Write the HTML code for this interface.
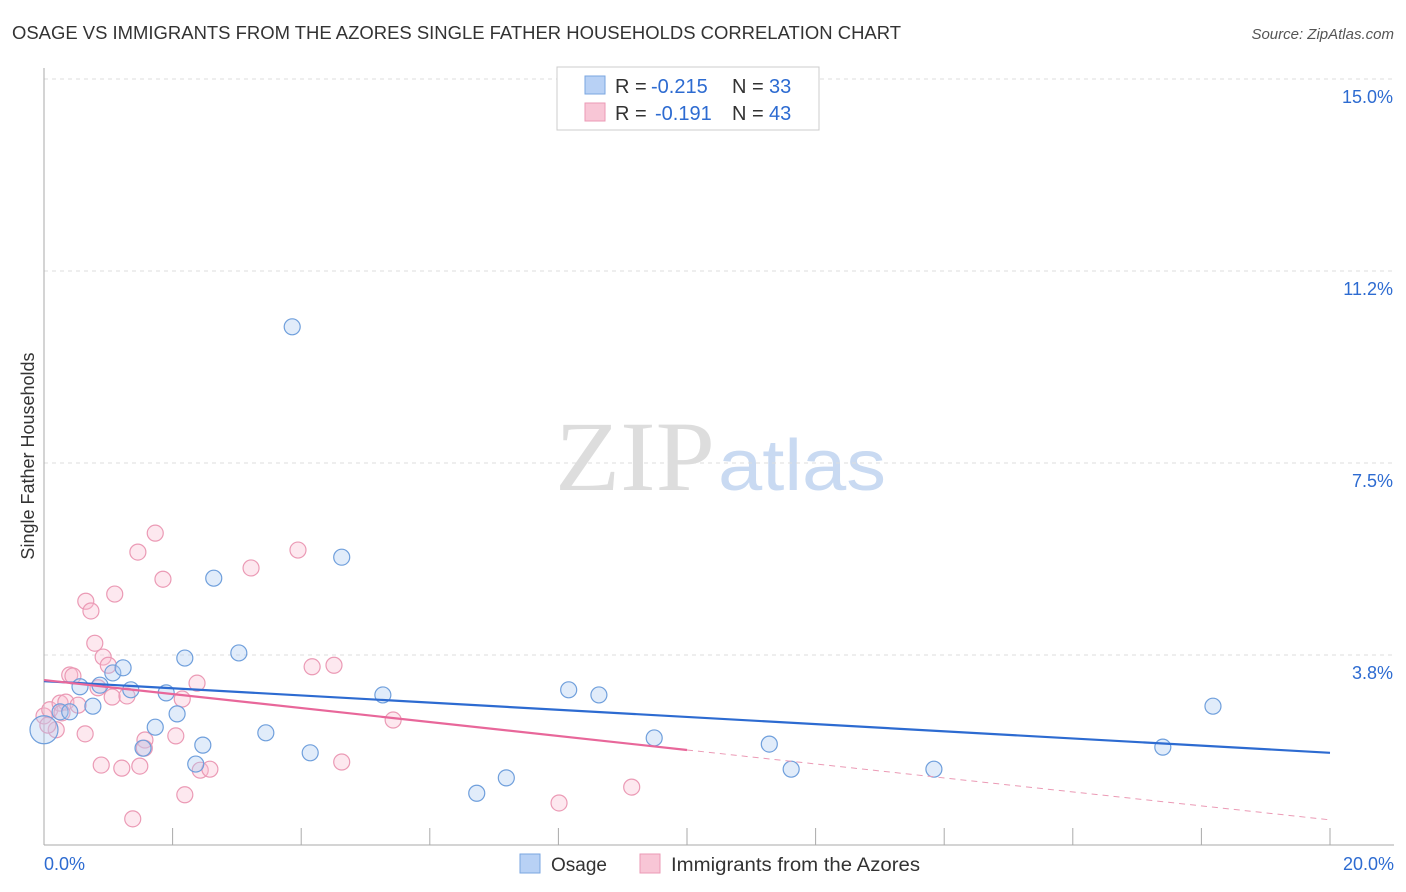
<!DOCTYPE html>
<html><head><meta charset="utf-8"><style>
body{margin:0;background:#fff;font-family:"Liberation Sans",sans-serif;}
#c{position:relative;width:1406px;height:892px;overflow:hidden}
</style></head><body>
<div id="c">
<svg id="s" width="1406" height="892" xmlns="http://www.w3.org/2000/svg">
<text x="12" y="39" font-size="18" fill="#333" textLength="889" lengthAdjust="spacingAndGlyphs">OSAGE VS IMMIGRANTS FROM THE AZORES SINGLE FATHER HOUSEHOLDS CORRELATION CHART</text>
<text x="1394" y="39" font-size="15" fill="#555" text-anchor="end" font-style="italic">Source: ZipAtlas.com</text>
<text x="555" y="490" font-size="100" font-family="Liberation Serif,serif" fill="#ddd" textLength="160" lengthAdjust="spacingAndGlyphs">ZIP</text>
<text x="718" y="490" font-size="72" fill="#c9daf2" textLength="168" lengthAdjust="spacingAndGlyphs">atlas</text>
<text transform="translate(34,456) rotate(-90)" font-size="18" fill="#333" text-anchor="middle">Single Father Households</text>
<g id="grid"></g><g id="marks"></g>
<g>
<rect x="557" y="67" width="262" height="63" fill="#fff" stroke="#ccc"/>
<rect x="585" y="76" width="20" height="18" fill="#b8d1f5" stroke="#7aa6e0"/>
<rect x="585" y="103" width="20" height="18" fill="#f8c6d6" stroke="#eb9ab5"/>
<text x="615" y="93" font-size="20" fill="#333">R =</text>
<text x="651" y="93" font-size="20" fill="#2d6bd1">-0.215</text>
<text x="732" y="93" font-size="20" fill="#333">N =</text>
<text x="769" y="93" font-size="20" fill="#2d6bd1">33</text>
<text x="615" y="120" font-size="20" fill="#333">R =</text>
<text x="655" y="120" font-size="20" fill="#2d6bd1">-0.191</text>
<text x="732" y="120" font-size="20" fill="#333">N =</text>
<text x="769" y="120" font-size="20" fill="#2d6bd1">43</text>
</g>
<g>
<rect x="520" y="854" width="20" height="19" fill="#b8d1f5" stroke="#7aa6e0"/>
<text x="551" y="871" font-size="19" fill="#333">Osage</text>
<rect x="640" y="854" width="20" height="19" fill="#f8c6d6" stroke="#eb9ab5"/>
<text x="671" y="871" font-size="19" fill="#333" textLength="249" lengthAdjust="spacingAndGlyphs">Immigrants from the Azores</text>
</g>
</svg></div>
<script>
const yTicks=[3.75,7.5,11.25,15];
const yTickLabels=["3.8%","7.5%","11.2%","15.0%"];
const xTickLabels=["0.0%","20.0%"];
const blueX=[0,0.25,0.40,0.56,0.76,0.87,1.07,1.23,1.35,1.54,1.73,1.90,2.07,2.19,2.47,2.36,2.64,3.03,3.45,3.86,4.14,4.63,5.27,6.73,7.19,8.16,8.63,9.49,11.28,11.62,13.84,17.40,18.18];
const blueY=[2.29,2.64,2.64,3.13,2.75,3.16,3.40,3.50,3.07,1.93,2.34,3.01,2.60,3.69,1.99,1.62,5.25,3.79,2.23,10.16,1.84,5.66,2.97,1.05,1.35,3.07,2.97,2.13,2.01,1.52,1.52,1.95,2.75];
const pinkX=[0,0.09,0.19,0.25,0.34,0.40,0.45,0.53,0.64,0.65,0.73,0.79,0.84,0.89,0.92,1.0,1.06,1.10,1.21,1.29,1.38,1.46,1.49,1.57,1.56,1.73,1.85,2.05,2.15,2.19,2.38,2.43,2.58,3.22,3.95,4.17,4.51,4.63,5.43,8.01,9.14,0.06,0.28];
const pinkY=[2.56,2.68,2.29,2.81,2.83,3.36,3.34,2.77,2.21,4.80,4.61,3.98,3.11,1.60,3.71,3.55,2.93,4.94,1.54,2.95,0.55,5.76,1.58,2.09,1.93,6.13,5.23,2.17,2.89,1.02,3.20,1.50,1.52,5.45,5.80,3.52,3.55,1.66,2.48,0.86,1.17,2.38,2.62];
const blueTrend=[3.24,1.84];
const pinkTrend=[3.26,0.53];
const pinkSolidEnd=10;
const X=v=>44+v*64.3, Y=v=>847-v*51.2;
const NS="http://www.w3.org/2000/svg";
const grid=document.getElementById('grid'), marks=document.getElementById('marks');
function mk(p,tag,a){const e=document.createElementNS(NS,tag);for(const k in a)e.setAttribute(k,a[k]);p.appendChild(e);return e;}
yTicks.forEach((t,i)=>{
 const l=mk(grid,'line',{x1:44,x2:1394,y1:Y(t),y2:Y(t),stroke:'#ddd','stroke-dasharray':'4,4'});
 
 
 const tx=mk(grid,'text',{x:1393,y:Y(t)+24,'font-size':18,fill:'#2d6bd1','text-anchor':'end'});
 tx.textContent=yTickLabels[i];
 
 
});
const topl=mk(grid,'line',{x1:44,x2:1394,y1:79,y2:79,stroke:'#ddd','stroke-dasharray':'4,4'});


const ya=mk(grid,'line',{x1:44,x2:44,y1:68,y2:845,stroke:'#aaa'});


const xa=mk(grid,'line',{x1:44,x2:1394,y1:845,y2:845,stroke:'#aaa'});


for(let i=1;i<=10;i++){const t=mk(grid,'line',{x1:X(i*2),x2:X(i*2),y1:828,y2:845,stroke:'#aaa'});
 
 }
[[0,'start',44],[20,'end',1394]].forEach((d,i)=>{const t=mk(grid,'text',{x:d[2],y:870,'font-size':18,fill:'#2d6bd1','text-anchor':d[1]});t.textContent=xTickLabels[i];
 
 });
function dots(xs,ys,fill,stroke,name){xs.forEach((x,i)=>{const c=mk(marks,'circle',{cx:X(x),cy:Y(ys[i]),r:(i===0&&name==='osage-point')?14:8,fill:fill,stroke:stroke,'stroke-width':1.2});
 
 });}
dots(pinkX,pinkY,'rgba(248,190,210,0.35)','#eb9ab5','azores-point');
dots(blueX,blueY,'rgba(170,200,240,0.35)','#6f9fdc','osage-point');
const bl=mk(marks,'line',{x1:X(0),y1:Y(blueTrend[0]),x2:X(20),y2:Y(blueTrend[1]),stroke:'#2d6bd1','stroke-width':2.2});


const pm=pinkTrend[0]+(pinkTrend[1]-pinkTrend[0])*pinkSolidEnd/20;
const pl=mk(marks,'line',{x1:X(0),y1:Y(pinkTrend[0]),x2:X(pinkSolidEnd),y2:Y(pm),stroke:'#e8679a','stroke-width':2.2});


const pd=mk(marks,'line',{x1:X(pinkSolidEnd),y1:Y(pm),x2:X(20),y2:Y(pinkTrend[1]),stroke:'#eb9ab5','stroke-width':1,'stroke-dasharray':'6,5'});


</script>
</body></html>
